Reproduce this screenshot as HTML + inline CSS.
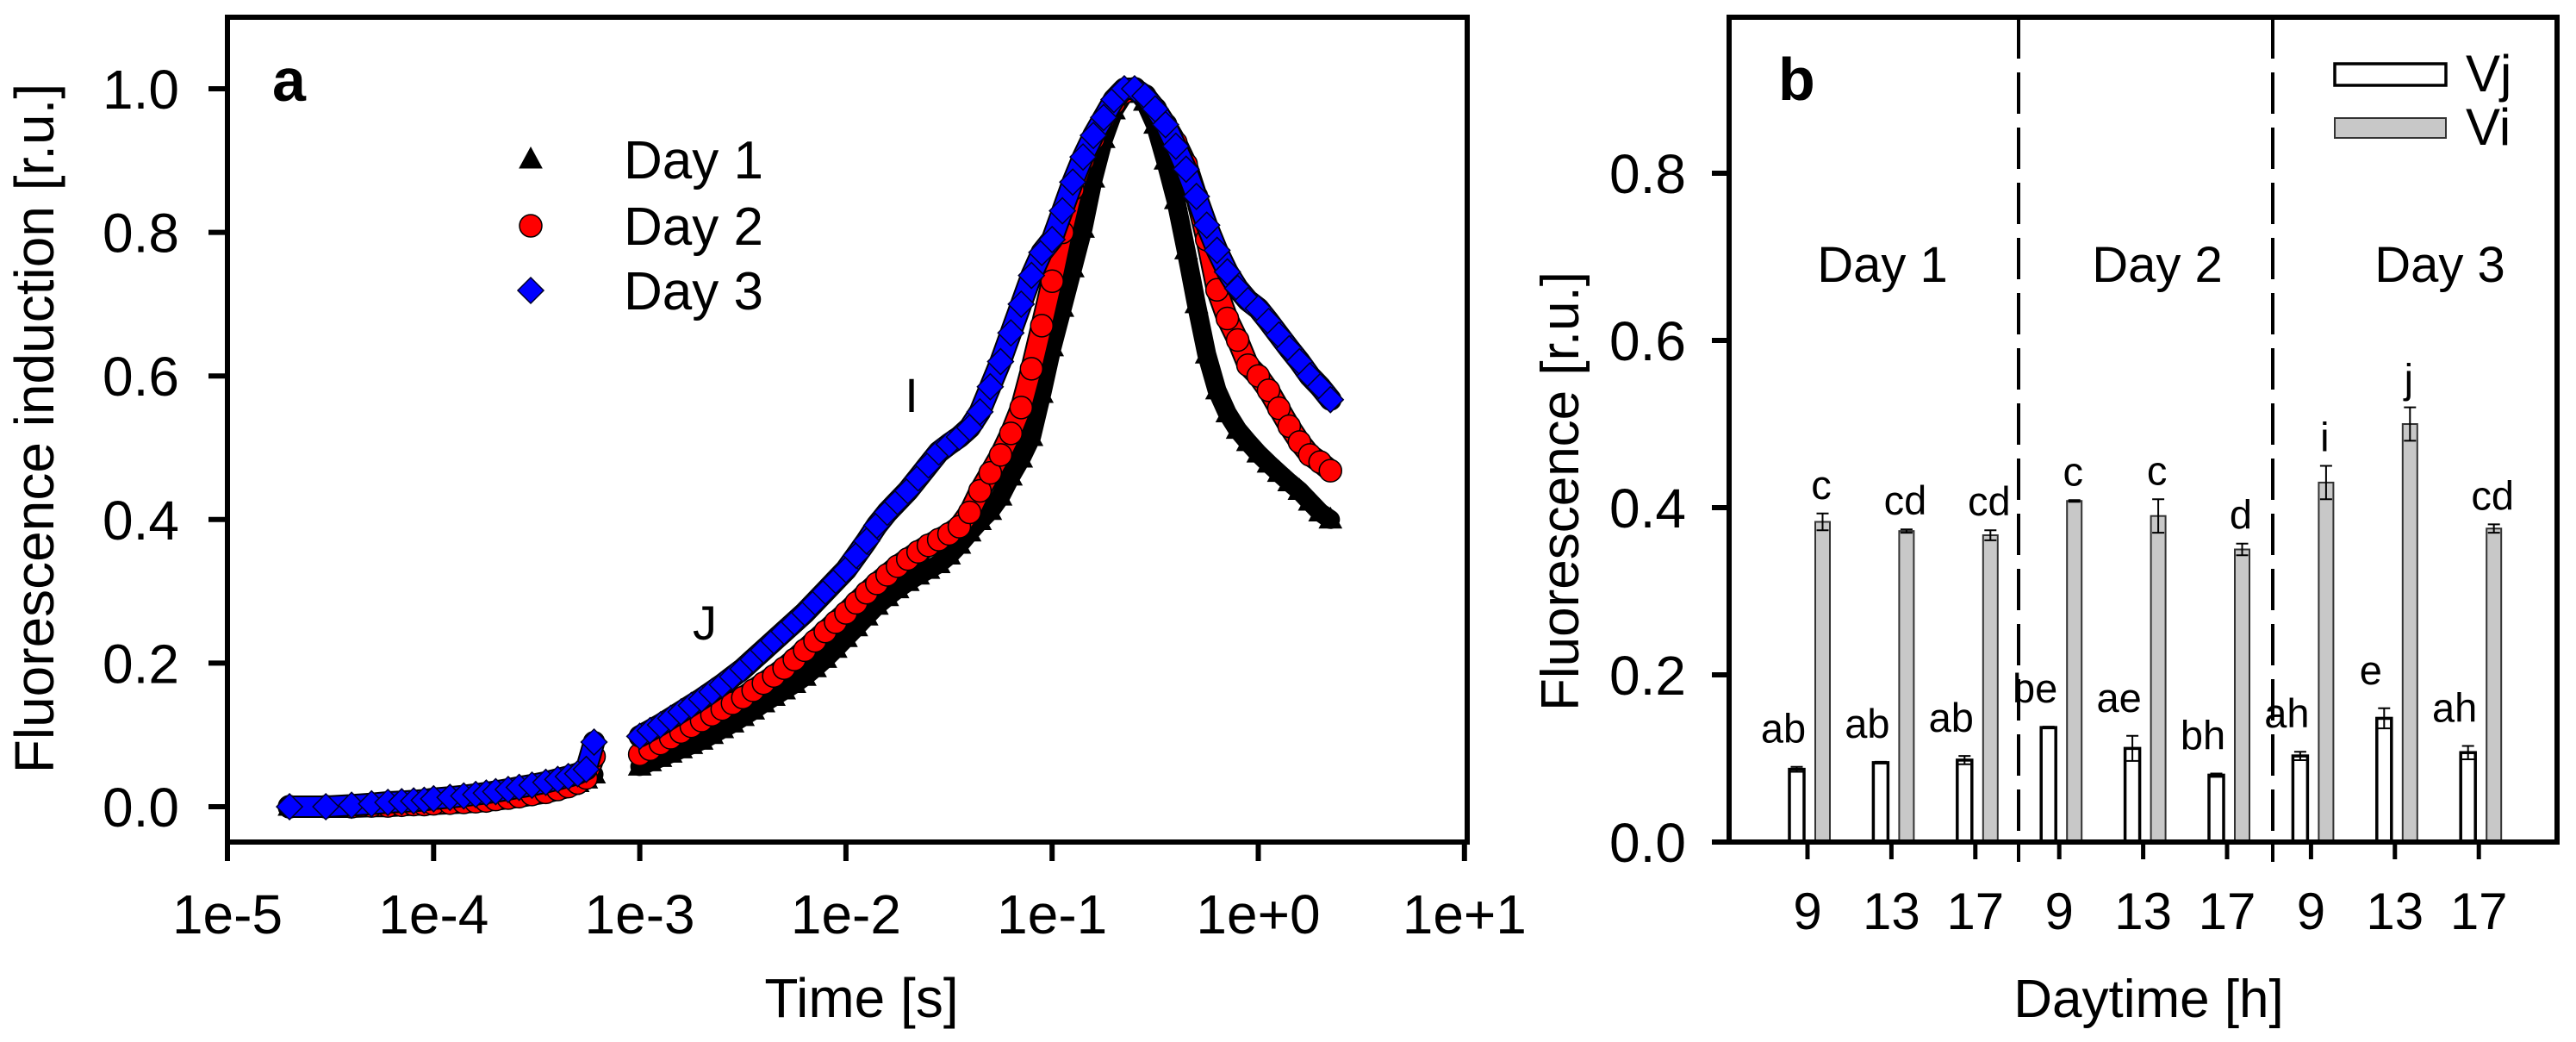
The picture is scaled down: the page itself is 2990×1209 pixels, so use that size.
<!DOCTYPE html>
<html><head><meta charset="utf-8"><style>
html,body{margin:0;padding:0;background:#fff;}
svg{display:block;font-family:"Liberation Sans",Arial,sans-serif;}
</style></head><body>
<svg id="fig" width="2990" height="1209" viewBox="0 0 2990 1209" xmlns="http://www.w3.org/2000/svg">
<g id="pa"></g>
<g id="pb"></g>
</svg>
<script>
// ---------- Panel a data ----------
const earlyTimes=[2e-5,3e-5,4e-5,5e-5,6e-5,7e-5,8e-5,9e-5,1e-4,1.2e-4,1.4e-4,1.6e-4,1.8e-4,2e-4,2.3e-4,2.6e-4,3e-4,3.5e-4,4e-4,4.5e-4,5e-4,5.5e-4,6e-4];
const earlyDay1=[0,0,.001,.002,.003,.004,.005,.006,.007,.008,.009,.010,.011,.013,.015,.017,.020,.023,.026,.029,.033,.038,.045];
const earlyDay2=[0,0,0,.001,.001,.002,.003,.003,.004,.005,.006,.007,.008,.010,.012,.014,.017,.020,.024,.028,.033,.040,.070];
const earlyDay3=[0,0,.002,.004,.006,.007,.008,.009,.011,.013,.015,.017,.019,.021,.024,.027,.030,.034,.038,.042,.046,.052,.090];
const lateLogTimes=[-3.00,-2.95,-2.90,-2.85,-2.80,-2.75,-2.70,-2.65,-2.60,-2.55,-2.50,-2.45,-2.40,-2.35,-2.30,-2.25,-2.20,-2.15,-2.10,-2.05,-2.00,-1.95,-1.90,-1.85,-1.80,-1.75,-1.70,-1.65,-1.60,-1.55,-1.50,-1.45,-1.40,-1.35,-1.30,-1.25,-1.20,-1.15,-1.10,-1.05,-1.00,-0.95,-0.90,-0.85,-0.80,-0.75,-0.70,-0.65,-0.60,-0.55,-0.50,-0.45,-0.40,-0.35,-0.30,-0.25,-0.20,-0.15,-0.10,-0.05,0.00,0.05,0.10,0.15,0.20,0.25,0.30,0.35];
const lateDay1=[.056,.062,.068,.074,.080,.086,.092,.100,.108,.116,.125,.134,.144,.153,.162,.171,.181,.193,.206,.220,.235,.250,.265,.280,.292,.303,.313,.322,.330,.338,.350,.365,.382,.398,.412,.432,.460,.485,.515,.575,.640,.695,.750,.805,.875,.930,.970,.993,1.000,.982,.950,.900,.845,.775,.700,.630,.580,.548,.525,.508,.492,.478,.465,.452,.440,.425,.410,.400];
const lateDay2=[.073,.080,.088,.096,.104,.112,.120,.128,.136,.144,.152,.162,.172,.182,.193,.205,.218,.231,.244,.257,.270,.284,.298,.311,.323,.335,.345,.355,.364,.372,.380,.390,.410,.440,.465,.490,.520,.556,.610,.670,.732,.800,.860,.900,.930,.958,.980,.995,1.000,.990,.972,.950,.925,.895,.850,.790,.720,.680,.650,.615,.600,.580,.555,.530,.508,.490,.480,.468];
const lateDay3=[.098,.106,.114,.123,.132,.141,.150,.160,.170,.181,.192,.205,.218,.231,.244,.257,.270,.285,.300,.315,.330,.350,.370,.392,.410,.425,.440,.458,.476,.494,.505,.515,.528,.550,.585,.620,.660,.700,.740,.772,.790,.830,.870,.905,.935,.960,.985,1.000,1.000,.990,.972,.950,.920,.888,.850,.810,.775,.745,.722,.705,.694,.676,.657,.638,.620,.600,.585,.567];
const xTickLabelsA=["1e-5","1e-4","1e-3","1e-2","1e-1","1e+0","1e+1"];
const yTicksA=[0,0.2,0.4,0.6,0.8,1.0];
const seriesNames=["Day 1","Day 2","Day 3"];

// ---------- Panel b data ----------
const hours=["9","13","17","9","13","17","9","13","17"];
const dayLabels=["Day 1","Day 2","Day 3"];
const vjValues=[.087,.095,.098,.137,.112,.080,.103,.148,.107];
const vjErrors=[.003,.001,.005,.001,.015,.002,.005,.012,.008];
const viValues=[.383,.372,.367,.408,.390,.350,.430,.500,.375];
const viErrors=[.010,.002,.006,.001,.020,.007,.020,.020,.005];
const vjLetters=["ab","ab","ab","be","ae","bh","ah","e","ah"];
const viLetters=["c","cd","cd","c","c","d","i","j","cd"];
const yTicksB=[0,0.2,0.4,0.6,0.8];

const NS="http://www.w3.org/2000/svg";
function mk(parent,tag,attrs,text){const e=document.createElementNS(NS,tag);for(const k in attrs)e.setAttribute(k,attrs[k]);if(text!==undefined)e.textContent=text;parent.appendChild(e);return e;}

// ---------- Panel a ----------
const pa=document.getElementById('pa');
const aL=264,aR=1703,aT=20,aB=977;
const xA=t=>aL+(Math.log10(t)+5)*239.3;
const xAlog=l=>aL+(l+5)*239.3;
const yA=v=>936-v*833;

let e=mk(pa,'rect',{x:aL,y:aT,width:aR-aL,height:aB-aT,fill:'none',stroke:'#000','stroke-width':6});


xTickLabelsA.forEach((lab,i)=>{
  const x=aL+i*239.3;
  let t=mk(pa,'line',{x1:x,y1:aB,x2:x,y2:aB+22,stroke:'#000','stroke-width':6});
  
  
  let tx=mk(pa,'text',{x:x,y:1083,'font-size':64,'text-anchor':'middle'},lab);
  
  
});
yTicksA.forEach(v=>{
  const y=yA(v);
  let t=mk(pa,'line',{x1:aL-22,y1:y,x2:aL,y2:y,stroke:'#000','stroke-width':6});
  
  
  let tx=mk(pa,'text',{x:208,y:y+23,'font-size':64,'text-anchor':'end'},v.toFixed(1));
  
  
});
e=mk(pa,'text',{x:0,y:0,'font-size':64,'text-anchor':'middle',transform:'translate(62,497) rotate(-90)'},'Fluorescence induction  [r.u.]');


e=mk(pa,'text',{x:1000,y:1180,'font-size':64,'text-anchor':'middle'},'Time [s]');


e=mk(pa,'text',{x:316,y:117,'font-size':70,'font-weight':'bold'},'a');


e=mk(pa,'text',{x:818,y:742,'font-size':56,'text-anchor':'middle'},'J');


e=mk(pa,'text',{x:1058,y:478,'font-size':56,'text-anchor':'middle'},'I');



function marker(g,type,x,y){
  if(type===0) return mk(g,'polygon',{points:`${x},${y-14} ${x+13},${y+10} ${x-13},${y+10}`,fill:'#000',stroke:'#000','stroke-width':1});
  if(type===1) return mk(g,'circle',{cx:x,cy:y,r:13,fill:'#ff0000',stroke:'#000','stroke-width':1.5});
  return mk(g,'polygon',{points:`${x},${y-15} ${x+15},${y} ${x},${y+15} ${x-15},${y}`,fill:'#0000ff',stroke:'#000028','stroke-width':1.5});
}
const earlySeries=[earlyDay1,earlyDay2,earlyDay3];
const lateSeries=[lateDay1,lateDay2,lateDay3];
const seriesKeys=['day-1','day-2','day-3'];
const bandColors=['#000','#ff0000','#0000ff'];
for(let s=0;s<3;s++){
  const g=mk(pa,'g',{});
  
  
  // dense band from the same data (approximates overlapping markers)
  const pts=lateLogTimes.map((l,i)=>xAlog(l).toFixed(1)+','+yA(lateSeries[s][i]).toFixed(1)).join(' ');
  const ept=earlyTimes.map((t,i)=>xA(t).toFixed(1)+','+yA(earlySeries[s][i]).toFixed(1)).join(' ');
  [pts,ept].forEach(pp=>{
    let o=mk(g,'polyline',{points:pp,fill:'none',stroke:'#000','stroke-width':s===0?22:26,'stroke-linejoin':'round','stroke-linecap':'round'});
    
    
    let b=mk(g,'polyline',{points:pp,fill:'none',stroke:bandColors[s],'stroke-width':s===0?20:22,'stroke-linejoin':'round','stroke-linecap':'round'});
    
    
  });
  earlyTimes.forEach((t,i)=>{
    const m=marker(g,s,xA(t),yA(earlySeries[s][i]));
    
    
  });
  lateLogTimes.forEach((l,i)=>{
    const m=marker(g,s,xAlog(l),yA(lateSeries[s][i]));
    
    
  });
}
// legend a
const legY=[185,262,337];
seriesNames.forEach((n,i)=>{
  const g=mk(pa,'g',{});
  
  
  marker(g,i,616,legY[i]);
  mk(g,'text',{x:724,y:legY[i]+22,'font-size':62},n);
});

// ---------- Panel b ----------
const pb=document.getElementById('pb');
const bL=2007,bR=2968,bT=20,bB=977;
const xB=k=>2098+k*97.4;
const yB=v=>977-v*970;
const dashX=[2343,2638];
dashX.forEach(x=>{
  let d=mk(pb,'line',{x1:x,y1:bT,x2:x,y2:1000,stroke:'#000','stroke-width':4,'stroke-dasharray':'48 16'});
  
  
});
hours.forEach((h,k)=>{
  const cx=xB(k);
  let b=mk(pb,'rect',{x:cx-21,y:yB(vjValues[k]),width:17,height:bB-yB(vjValues[k]),fill:'#fff',stroke:'#000','stroke-width':3.5});
  
  
  b=mk(pb,'rect',{x:cx+9,y:yB(viValues[k]),width:17,height:bB-yB(viValues[k]),fill:'#c8c8c8',stroke:'#333','stroke-width':2});
  
  
  [[cx-12.5,vjValues[k],vjErrors[k]],[cx+17.5,viValues[k],viErrors[k]]].forEach(([x,v,er])=>{
    const p=mk(pb,'path',{d:`M${x},${yB(v-er)}V${yB(v+er)}M${x-7},${yB(v+er)}H${x+7}M${x-7},${yB(v-er)}H${x+7}`,stroke:'#000','stroke-width':2,fill:'none'});
    
    
  });
  let t=mk(pb,'text',{x:cx-28,y:yB(vjValues[k]+vjErrors[k])-28,'font-size':47,'text-anchor':'middle'},vjLetters[k]);
  
  
  t=mk(pb,'text',{x:cx+16,y:yB(viValues[k]+viErrors[k])-17,'font-size':47,'text-anchor':'middle'},viLetters[k]);
  
  
  let tk=mk(pb,'line',{x1:cx,y1:bB,x2:cx,y2:bB+20,stroke:'#000','stroke-width':5});
  
  
  t=mk(pb,'text',{x:cx,y:1078,'font-size':60,'text-anchor':'middle'},h);
  
  
});
e=mk(pb,'rect',{x:bL,y:bT,width:bR-bL,height:bB-bT,fill:'none',stroke:'#000','stroke-width':6});


yTicksB.forEach(v=>{
  const y=yB(v);
  let t=mk(pb,'line',{x1:bL-20,y1:y,x2:bL,y2:y,stroke:'#000','stroke-width':6});
  
  
  let tx=mk(pb,'text',{x:1957,y:y+23,'font-size':64,'text-anchor':'end'},v.toFixed(1));
  
  
});
const dayCx=[2185,2504,2832];
dayLabels.forEach((d,i)=>{
  let t=mk(pb,'text',{x:dayCx[i],y:327,'font-size':58,'text-anchor':'middle'},d);
  
  
});
e=mk(pb,'text',{x:0,y:0,'font-size':62,'text-anchor':'middle',transform:'translate(1832,570) rotate(-90)'},'Fluorescence [r.u.]');


e=mk(pb,'text',{x:2494,y:1180,'font-size':62,'text-anchor':'middle'},'Daytime [h]');


e=mk(pb,'text',{x:2064,y:116,'font-size':70,'font-weight':'bold'},'b');


// legend b
let lg=mk(pb,'g',{});


mk(lg,'rect',{x:2710,y:74,width:129,height:25,fill:'#fff',stroke:'#000','stroke-width':3.5});
mk(lg,'text',{x:2862,y:106,'font-size':60},'Vj');
lg=mk(pb,'g',{});


mk(lg,'rect',{x:2710,y:137,width:129,height:23,fill:'#c8c8c8',stroke:'#333','stroke-width':2});
mk(lg,'text',{x:2862,y:168,'font-size':60},'Vi');
</script>
</body></html>
